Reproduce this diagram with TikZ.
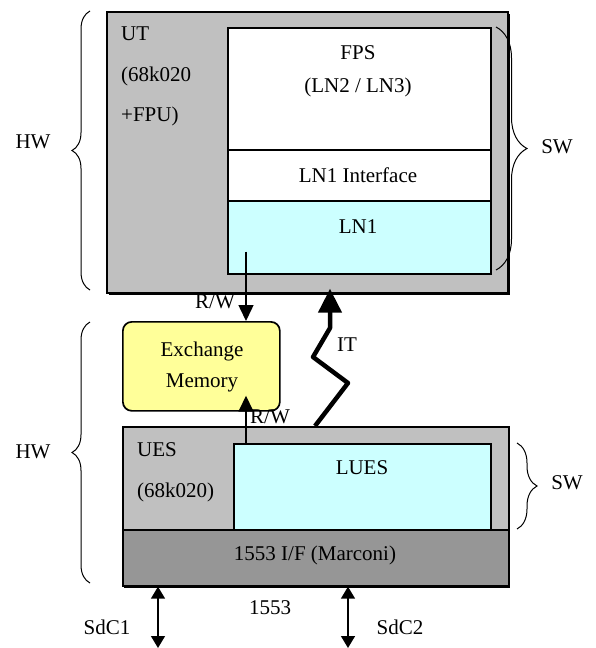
\documentclass[tikz,border=0pt]{standalone}
\usepackage{fontspec}
\setmainfont{Liberation Serif}
\usetikzlibrary{arrows.meta, calc, decorations.pathreplacing}

\definecolor{hwgray}{HTML}{C0C0C0}
\definecolor{iogray}{HTML}{969696}
\definecolor{swcyan}{HTML}{CCFFFF}
\definecolor{memyellow}{HTML}{FFFF99}

\tikzset{
    box/.style={draw, line width=1.7pt, inner sep=0pt, anchor=north west},
    txt/.style={font=\fontsize{21}{24}\selectfont, inner sep=0pt},
    brace/.style={decorate, decoration={brace, amplitude=#1}, line width=1pt},
    brace/.default=18pt,
    rw/.style={-{Triangle[width=15pt,length=16pt]}, line width=1.5pt},
    bus/.style={{Triangle[width=14pt,length=12pt]}-{Triangle[width=14pt,length=12pt]}, line width=1.5pt},
    irq/.style={-{Triangle[width=23pt,length=24pt]}, line width=4.5pt, line join=round},
}

\begin{document}
\begin{tikzpicture}[x=1pt, y=-1pt]
    \useasboundingbox (0,0) rectangle (595,648);

    % upper unit
    \fill (109,14) rectangle (510,295);
    \node [box, fill=hwgray, minimum width=401pt, minimum height=281pt] (ut) at (106,11) {};
    \node [box, fill=white, minimum width=263pt, minimum height=122pt] (fps) at (227,27) {};
    \node [box, fill=white, minimum width=263pt, minimum height=51pt] (lnif) at (227,149) {};
    \node [box, fill=swcyan, minimum width=263pt, minimum height=73pt] (lnone) at (227,200) {};
    \node [txt, anchor=west, align=left] (utlabel) at (121,76) {UT\\[17pt](68k020\\[16pt]+FPU)};
    \node [txt, align=center] (fpslabel) at (358,71.5) {FPS\\[9pt](LN2 / LN3)};
    \node [txt] (lniflabel) at (358,175) {LN1 Interface};
    \node [txt] (lnonelabel) at (358,227) {LN1};

    % exchange memory
    \node [box, fill=memyellow, rounded corners=9pt, minimum width=157pt, minimum height=89pt] (mem) at (122,321) {};
    \node [txt, align=center] (memlabel) at (202,367) {Exchange\\[7pt]Memory};

    % lower unit
    \fill (124,428) rectangle (510,588);
    \node [box, fill=hwgray, minimum width=386pt, minimum height=103pt] (ues) at (122,426) {};
    \node [box, fill=swcyan, minimum width=257pt, minimum height=86pt] (lues) at (233,443) {};
    \node [box, fill=iogray, minimum width=386pt, minimum height=56pt] (io) at (122,529) {};
    \node [txt, anchor=west, align=left] (ueslabel) at (137,472.5) {UES\\[17pt](68k020)};
    \node [txt] (lueslabel) at (362,468) {LUES};
    \node [txt] (iolabel) at (315,555) {1553 I/F (Marconi)};

    % braces
    \draw [brace] (90,290) -- (90,11);
    \draw [brace] (90,583) -- (90,322);
    \draw [brace=31pt] (496,27) -- (496,270);
    \draw [brace=20pt] (517,443) -- (517,529);
    \node [txt] (hwtop) at (33,142) {HW};
    \node [txt] (hwbot) at (33,452) {HW};
    \node [txt] (swtop) at (557,147) {SW};
    \node [txt] (swbot) at (567,483) {SW};

    % connectors
    \draw [rw] ([xshift=19pt, yshift=23pt]lnone.south west) -- ([xshift=124pt]mem.north west);
    \node [txt] (rwtop) at (215,302) {R/W};
    \draw [rw] ([xshift=13pt]lues.north west) -- ([xshift=124pt, yshift=16pt]mem.south west);
    \node [txt] (rwbot) at (270,417) {R/W};
    \draw [irq] ([xshift=193pt]ues.north west) -- (348,383) -- (313,357) -- (330,328) -- ([xshift=224pt, yshift=5pt]ut.south west);
    \node [txt] (itlabel) at (347,345) {IT};

    % 1553 bus
    \coordinate (sdcone) at (158,648);
    \coordinate (sdctwo) at (348,648);
    \draw [bus] ([xshift=36pt]io.south west) -- (sdcone);
    \draw [bus] ([xshift=226pt]io.south west) -- (sdctwo);
    \node [txt] (sdconelabel) at (107,627) {SdC1};
    \node [txt] (sdctwolabel) at (400,627) {SdC2};
    \node [txt] (buslabel) at (270,608) {1553};
\end{tikzpicture}
\end{document}
